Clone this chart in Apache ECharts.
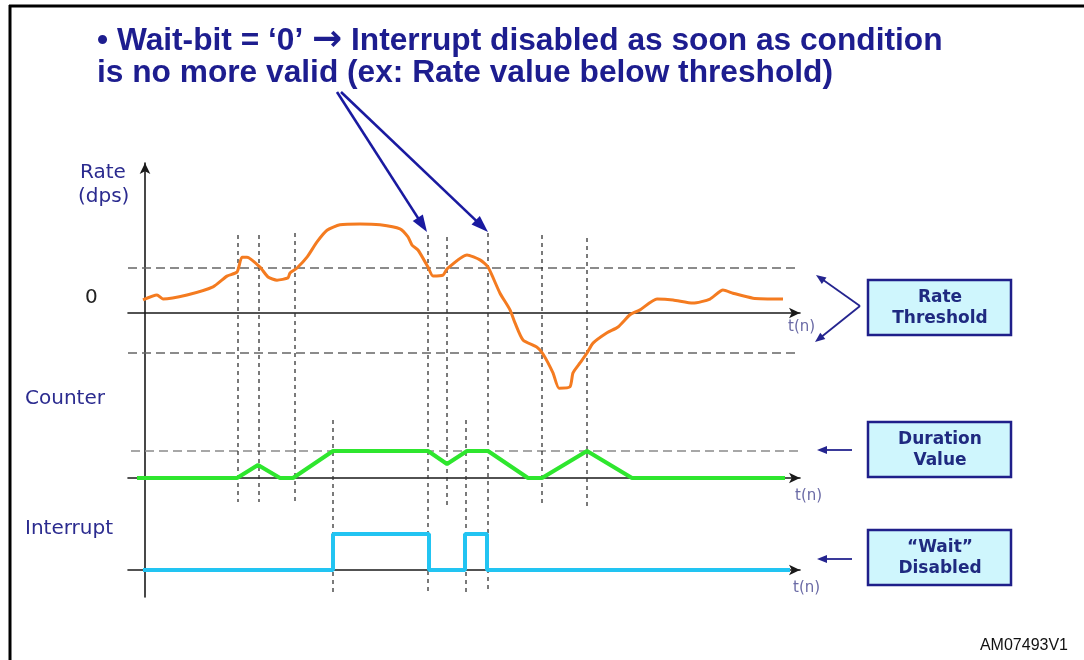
<!DOCTYPE html>
<html><head><meta charset="utf-8">
<script src="https://cdn.jsdelivr.net/npm/echarts@6.0.0/dist/echarts.min.js"></script>
<style>html,body{margin:0;padding:0;background:#fff}#c{width:1084px;height:660px}</style>
</head><body><div id="c"></div>
<script>
// ---------- data (time in samples t(n)) ----------
const rateT = [-2,12,18,42,68,82,92,97,102,115,123,132,143,145,152,162,172,182,195,215,235,255,263,267,273,283,288,298,302,322,335,343,355,365,370,378,392,398,408,414,425,428,435,442,448,462,473,485,495,512,528,548,565,578,588,608,638];
const rateV = [0.29,0.40,0.31,0.40,0.58,0.82,0.91,1.24,1.24,1.02,0.80,0.73,0.78,0.89,1.00,1.24,1.58,1.84,1.96,1.98,1.96,1.87,1.69,1.51,1.40,1.02,0.82,0.84,0.98,1.29,1.18,1.02,0.44,0.07,-0.22,-0.60,-0.76,-0.91,-1.33,-1.67,-1.64,-1.33,-1.11,-0.89,-0.67,-0.44,-0.31,-0.04,0.07,0.31,0.29,0.22,0.31,0.51,0.44,0.33,0.31];
const rateThresholds = [1.0, -0.89];
const thresholdSpanT = [-45, 655];

const counterT = [-8,92,113,135,148,188,283,302,322,343,383,397,442,487,640];
const counterV = [0,0,3.85,0,0,8,8,4.15,8,8,0,0,8,0,0];
const durationValue = 8;
const durationSpanT = [-42, 658];

const interruptT = [-2,188,188,284,284,320,320,342,342,645];
const interruptV = [0,0,1,1,0,0,1,1,0,0];

// vertical dotted guide lines: time, top and bottom on the overlay height scale
const guideT      = [93, 114, 150, 188, 283, 302, 321, 343, 397, 442];
const guideTop    = [362, 362, 364, 177, 362, 360, 177, 364, 362, 359];
const guideBottom = [95, 95, 95, 4, 2, 92, 4, 4, 94, 91];

const titleLine1 = ['\u2022 Wait-bit = \u20180\u2019 ', '\u2192', ' Interrupt disabled as soon as condition'];
const titleLine2 = 'is no more valid (ex: Rate value below threshold)';
const boxLabels = [['Rate','Threshold'],['Duration','Value'],['\u201cWait\u201d','Disabled']];

// ---------- chart ----------
const zip = (a,b) => a.map((v,i) => [v,b[i]]);
const axisColor = '#1a1a1a';
function panelX(idx){
  return {type:'value', gridIndex:idx, min:-17, max:655,
    axisLine:{show:true, onZero:true, symbol:['none','arrow'], symbolSize:[8,11], lineStyle:{color:axisColor,width:1.6}},
    axisTick:{show:false}, axisLabel:{show:false}, splitLine:{show:false}};
}
function panelY(idx,min,max){
  return {type:'value', gridIndex:idx, min:min, max:max, axisLine:{show:false}, axisTick:{show:false}, axisLabel:{show:false}, splitLine:{show:false}};
}
const dashGray = {color:'#666', width:1.4, type:[9,5]};
const series = [
  {type:'line', xAxisIndex:0, yAxisIndex:0, data:zip(thresholdSpanT,[rateThresholds[0],rateThresholds[0]]), showSymbol:false, clip:false, lineStyle:dashGray, z:1},
  {type:'line', xAxisIndex:0, yAxisIndex:0, data:zip(thresholdSpanT,[rateThresholds[1],rateThresholds[1]]), showSymbol:false, clip:false, lineStyle:dashGray, z:1},
  {type:'line', xAxisIndex:1, yAxisIndex:1, data:zip(durationSpanT,[durationValue,durationValue]), showSymbol:false, clip:false, lineStyle:{color:'#8a8a8a',width:1.4,type:[9,5]}, z:1},
  {type:'line', xAxisIndex:0, yAxisIndex:0, data:zip(rateT,rateV), showSymbol:false, clip:false, smooth:0.2, lineStyle:{color:'#f47b20',width:3}, z:5},
  {type:'line', xAxisIndex:1, yAxisIndex:1, data:zip(counterT,counterV), showSymbol:false, clip:false, lineStyle:{color:'#2ee62e',width:4}, z:5},
  {type:'line', xAxisIndex:2, yAxisIndex:2, data:zip(interruptT,interruptV), showSymbol:false, clip:false, lineStyle:{color:'#22c4f2',width:4}, z:5}
];
guideT.forEach((t,i) => series.push({type:'line', xAxisIndex:3, yAxisIndex:3, data:[[t,guideTop[i]],[t,guideBottom[i]]], showSymbol:false, clip:false, lineStyle:{color:'#333',width:1.3,type:[4,4]}, z:2}));

function arrow(x1,y1,x2,y2,len,w,color,lw){
  const dx=x2-x1, dy=y2-y1, L=Math.hypot(dx,dy), ux=dx/L, uy=dy/L;
  const bx=x2-ux*len, by=y2-uy*len;
  return [
    {type:'line', shape:{x1:x1,y1:y1,x2:bx+ux*2,y2:by+uy*2}, style:{stroke:color,lineWidth:lw}},
    {type:'polygon', shape:{points:[[x2,y2],[bx-uy*w/2,by+ux*w/2],[bx+uy*w/2,by-ux*w/2]]}, style:{fill:color}}
  ];
}
const navy = '#1d1d8f';
const lbl = '#2b2b8f';
const tn = '#6b6ba6';
const titleFont = 'bold 31.7px "Liberation Sans"';
let graphic = [
  {type:'line', shape:{x1:9,y1:6,x2:1084,y2:6}, style:{stroke:'#000',lineWidth:3}},
  {type:'line', shape:{x1:10,y1:5,x2:10,y2:660}, style:{stroke:'#000',lineWidth:3}},
  {type:'text', x:97, y:41, style:{
     text:'{t|' + titleLine1[0] + '}{a|' + titleLine1[1] + '}{t|' + titleLine1[2] + '}',
     verticalAlign:'middle',
     rich:{ t:{font:titleFont, fill:navy}, a:{font:'bold 36px "DejaVu Sans"', fill:navy} } }},
  {type:'text', x:97, y:73, style:{text:titleLine2, font:titleFont, fill:navy, verticalAlign:'middle'}},
  {type:'text', x:80, y:173, style:{text:'Rate', font:'20px "DejaVu Sans"', fill:lbl, verticalAlign:'middle'}},
  {type:'text', x:78, y:197, style:{text:'(dps)', font:'20px "DejaVu Sans"', fill:lbl, verticalAlign:'middle'}},
  {type:'text', x:85, y:298, style:{text:'0', font:'20px "DejaVu Sans"', fill:'#222', verticalAlign:'middle'}},
  {type:'text', x:25, y:399, style:{text:'Counter', font:'20px "DejaVu Sans"', fill:lbl, verticalAlign:'middle'}},
  {type:'text', x:25, y:529, style:{text:'Interrupt', font:'20px "DejaVu Sans"', fill:lbl, verticalAlign:'middle'}},
  {type:'text', x:788, y:327, style:{text:'t(n)', font:'15px "DejaVu Sans"', fill:tn, verticalAlign:'middle'}},
  {type:'text', x:795, y:496, style:{text:'t(n)', font:'15px "DejaVu Sans"', fill:tn, verticalAlign:'middle'}},
  {type:'text', x:793, y:588, style:{text:'t(n)', font:'15px "DejaVu Sans"', fill:tn, verticalAlign:'middle'}},
  {type:'text', x:1068, y:646, style:{text:'AM07493V1', font:'16px "Liberation Sans"', fill:'#111', align:'right', verticalAlign:'middle'}}
];
const boxTops = [280, 422, 530];
boxTops.forEach((top,i) => {
  graphic.push({type:'rect', shape:{x:868,y:top,width:143,height:55}, style:{fill:'#cff6fd',stroke:'#1f1f8a',lineWidth:2.5}});
  graphic.push({type:'text', x:940, y:top+18, style:{text:boxLabels[i][0], font:'bold 17px "DejaVu Sans"', fill:'#1f2a80', align:'center', verticalAlign:'middle'}});
  graphic.push({type:'text', x:940, y:top+39, style:{text:boxLabels[i][1], font:'bold 17px "DejaVu Sans"', fill:'#1f2a80', align:'center', verticalAlign:'middle'}});
});
graphic = graphic.concat(
  arrow(337,92,427,232,17,12,'#1a1aa0',2.6),
  arrow(341,92,488,232,17,12,'#1a1aa0',2.6),
  arrow(860,306,816,275,10,8,'#24248f',1.8),
  arrow(860,306,815,342,10,8,'#24248f',1.8),
  arrow(852,450,817,450,10,8,'#24248f',1.8),
  arrow(852,559,817,559,10,8,'#24248f',1.8)
);

const chart = echarts.init(document.getElementById('c'), null, {renderer:'canvas'});
chart.setOption({
  backgroundColor:'#fff',
  animation:false,
  grid:[
    {left:128, width:672, top:200.5, height:202.5, outerBoundsMode:'none'},
    {left:128, width:672, top:444.25, height:33.75, outerBoundsMode:'none'},
    {left:128, width:672, top:526.8, height:43.2, outerBoundsMode:'none'},
    {left:145, width:655, top:163, height:434, outerBoundsMode:'none'}
  ],
  xAxis:[panelX(0), panelX(1), panelX(2),
    {type:'value', gridIndex:3, min:0, max:655, show:false}],
  yAxis:[panelY(0,-2,2.5), panelY(1,0,10), panelY(2,0,1.2),
    {type:'value', gridIndex:3, min:0, max:434,
     axisLine:{show:true, onZero:false, symbol:['none','arrow'], symbolSize:[8,11], lineStyle:{color:axisColor,width:1.6}},
     axisTick:{show:false}, axisLabel:{show:false}, splitLine:{show:false}}],
  series: series,
  graphic: graphic
});
</script></body></html>
